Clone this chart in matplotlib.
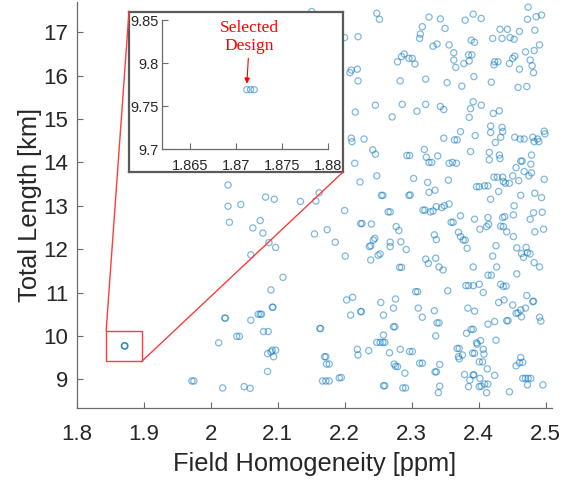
import matplotlib
matplotlib.use("Agg")
import matplotlib.pyplot as plt
from matplotlib.patches import Rectangle, ConnectionPatch

# Pareto front samples: field homogeneity [ppm] vs total length [km]
field_hom = [
    2.151,
    2.248, 2.252, 2.474, 2.326, 2.343, 2.350, 2.380, 2.392, 2.404, 2.473, 2.486, 2.494,
    2.484, 2.461, 2.432, 2.443, 2.316, 2.313, 2.312, 2.200, 2.220, 2.332, 2.338, 2.356,
    2.389, 2.394, 2.421, 2.435, 2.447, 2.453, 2.491, 2.470, 2.483, 2.363, 2.363, 2.366,
    2.385, 2.390, 2.386, 2.378, 2.279, 2.285, 2.289, 2.296, 2.301, 2.305, 2.210, 2.208,
    2.219, 2.220, 2.283, 2.321, 2.353, 2.375, 2.393, 2.419, 2.424, 2.429, 2.423, 2.446,
    2.451, 2.454, 2.461, 2.477, 2.480, 2.482, 2.459, 2.472, 2.216, 2.246, 2.271, 2.286,
    2.308, 2.321, 2.343, 2.348, 2.386, 2.388, 2.392, 2.404, 2.422, 2.431, 2.418, 2.435,
    2.498,
    2.210, 2.211, 2.229, 2.348, 2.364, 2.368, 2.373, 2.395, 2.418, 2.425, 2.433, 2.436,
    2.454, 2.462, 2.468, 2.481, 2.483, 2.488, 2.490, 2.499, 2.242, 2.246, 2.215, 2.293,
    2.297, 2.319, 2.322, 2.326, 2.330, 2.339, 2.356, 2.361, 2.367, 2.388, 2.416, 2.416,
    2.431, 2.432, 2.463, 2.465, 2.479, 2.478, 2.456, 2.248, 2.223, 2.303, 2.324, 2.355,
    2.397, 2.401, 2.409, 2.414, 2.423, 2.428, 2.436, 2.437, 2.440, 2.446, 2.451, 2.460,
    2.468, 2.475, 2.479, 2.498, 2.326, 2.335, 2.255, 2.257, 2.296, 2.298, 2.430, 2.418,
    2.463, 2.484, 2.494, 2.200, 2.265, 2.268, 2.317, 2.320, 2.328, 2.332, 2.337, 2.345,
    2.349, 2.356, 2.453, 2.482, 2.495, 2.224, 2.226, 2.240, 2.359, 2.362, 2.373, 2.394,
    2.414, 2.412, 2.415, 2.402, 2.436, 2.439, 2.433, 2.437, 2.452, 2.477, 2.442, 2.452,
    2.484, 2.497, 2.277, 2.281, 2.245, 2.243, 2.239, 2.237, 2.253, 2.250, 2.268, 2.268,
    2.284, 2.292, 2.334, 2.337, 2.370, 2.373, 2.377, 2.380, 2.383, 2.426, 2.421, 2.457,
    2.464, 2.471, 2.473, 2.477, 2.467, 2.201, 2.239, 2.321, 2.325, 2.336, 2.341, 2.282,
    2.285, 2.392, 2.427, 2.483, 2.491,
    2.347, 2.414, 2.419, 2.457, 2.381, 2.385, 2.392, 2.401, 2.407, 2.433, 2.437, 2.441,
    2.306, 2.309, 2.354, 2.203, 2.212, 2.254, 2.276, 2.273, 2.225, 2.224, 2.209, 2.258,
    2.310, 2.334, 2.316, 2.384, 2.394, 2.430, 2.438, 2.451, 2.472, 2.481, 2.482, 2.463,
    2.456, 2.459, 2.464, 2.470, 2.491, 2.493, 2.338, 2.341, 2.273, 2.275, 2.258, 2.248,
    2.253, 2.257, 2.260, 2.336, 2.382, 2.389, 2.392, 2.397, 2.398, 2.403, 2.414, 2.424,
    2.426, 2.442, 2.444, 2.219, 2.220, 2.236, 2.267, 2.283, 2.297, 2.301, 2.368, 2.371,
    2.370, 2.371, 2.376, 2.391, 2.394, 2.407, 2.408, 2.401, 2.406, 2.413, 2.456, 2.461,
    2.466, 2.463, 2.274, 2.276, 2.279, 2.312, 2.316, 2.342, 2.335, 2.337, 2.290, 2.195,
    2.379, 2.392, 2.393, 2.387, 2.402, 2.424, 2.466, 2.470, 2.474, 2.478, 2.496, 2.258,
    2.260, 2.287, 2.291, 2.342, 2.340, 2.385, 2.401, 2.404, 2.409, 2.414, 2.412, 2.446,
    2.473,
    2.026, 2.082, 2.095, 2.026, 2.045, 2.134, 2.157, 2.162, 2.028, 2.074, 2.063, 2.078,
    2.155, 2.174, 2.186, 2.087, 2.097, 2.060, 2.108, 2.090, 2.092, 2.093, 2.021, 2.022,
    2.060, 2.071, 2.074, 2.076, 2.163, 2.164, 2.012, 2.039, 2.043, 2.079, 2.086, 2.085,
    2.090, 2.092, 2.097, 2.094, 2.170, 2.172, 2.173, 2.177, 2.085, 2.167, 2.172, 2.177,
    2.192, 1.972, 1.975, 2.018, 2.050, 2.059,
    1.8712, 1.8716, 1.8720,
]
total_len = [
    17.48,
    17.44, 17.30, 17.58, 17.35, 17.31, 17.09, 17.28, 17.42, 17.32, 17.30, 17.36, 17.40,
    17.05, 17.02, 17.07, 17.07, 17.13, 16.96, 16.86, 16.88, 16.90, 16.68, 16.73, 16.71,
    16.82, 16.77, 16.86, 16.86, 16.88, 16.84, 16.71, 16.55, 16.58, 16.53, 16.36, 16.19,
    16.48, 16.48, 16.34, 16.28, 16.32, 16.44, 16.50, 16.40, 16.40, 16.27, 16.13, 16.07,
    16.15, 15.88, 15.88, 15.92, 15.84, 15.76, 15.98, 15.85, 16.32, 16.32, 16.25, 16.28,
    16.40, 16.45, 16.15, 16.36, 16.23, 16.07, 15.73, 15.75, 15.16, 15.32, 15.05, 15.34,
    15.18, 15.34, 15.29, 15.22, 15.04, 15.24, 15.40, 15.32, 15.13, 15.19, 14.84, 14.81,
    14.72,
    14.56, 14.48, 14.54, 14.56, 14.52, 14.52, 14.71, 14.62, 14.69, 14.46, 14.58, 14.71,
    14.58, 14.54, 14.54, 14.58, 14.48, 14.54, 14.48, 14.66, 14.29, 14.19, 13.98, 14.16,
    14.16, 14.30, 14.12, 14.00, 14.00, 14.15, 13.98, 14.00, 13.98, 14.25, 14.23, 14.06,
    14.17, 14.09, 14.03, 14.03, 14.17, 13.96, 13.88, 13.69, 13.55, 13.63, 13.54, 13.59,
    13.44, 13.44, 13.46, 13.46, 13.66, 13.66, 13.66, 13.56, 13.52, 13.52, 13.69, 13.58,
    13.79, 13.69, 13.76, 13.61, 13.31, 13.36, 13.24, 13.24, 13.24, 13.25, 13.33, 13.15,
    13.24, 13.29, 13.19, 12.89, 12.86, 12.86, 12.90, 12.90, 12.86, 12.88, 12.98, 12.96,
    13.00, 13.04, 13.00, 12.84, 12.85, 12.59, 12.59, 12.58, 12.62, 12.62, 12.77, 12.69,
    12.73, 12.52, 12.57, 12.46, 12.73, 12.75, 12.53, 12.52, 12.79, 12.69, 12.40, 12.29,
    12.40, 12.46, 12.52, 12.43, 12.25, 12.21, 12.08, 12.06, 11.89, 11.86, 12.16, 12.06,
    12.17, 11.99, 12.33, 12.22, 12.39, 12.29, 12.21, 12.21, 12.02, 12.08, 11.84, 12.03,
    11.90, 12.04, 11.92, 11.89, 11.81, 11.84, 11.75, 11.77, 11.67, 11.79, 11.59, 11.58,
    11.58, 11.59, 11.59, 11.69, 11.59,
    11.52, 11.40, 11.40, 11.43, 11.16, 11.16, 11.16, 11.19, 11.00, 11.19, 11.14, 11.15,
    11.02, 11.02, 11.04, 10.83, 10.89, 10.77, 10.85, 10.64, 10.56, 10.56, 10.48, 10.48,
    10.64, 10.58, 10.43, 10.64, 10.57, 10.77, 10.83, 10.71, 10.93, 10.79, 10.80, 10.60,
    10.52, 10.53, 10.44, 10.64, 10.43, 10.34, 10.30, 10.30, 10.21, 10.21, 10.02, 9.85,
    9.85, 9.85, 9.85, 10.00, 10.06, 10.15, 10.15, 9.84, 9.81, 9.89, 10.27, 10.33,
    9.90, 10.35, 10.35, 9.69, 9.56, 9.66, 9.61, 9.69, 9.64, 9.64, 9.71, 9.71,
    9.52, 9.47, 9.56, 9.60, 9.60, 9.69, 9.58, 9.40, 9.40, 9.24, 9.31, 9.38,
    9.39, 9.50, 9.35, 9.30, 9.29, 9.37, 9.37, 9.34, 9.17, 9.17, 9.14, 9.04,
    9.11, 9.10, 9.10, 8.98, 9.02, 9.09, 9.02, 9.02, 9.02, 9.02, 8.87, 8.85,
    8.85, 8.80, 8.80, 8.84, 8.69, 8.83, 8.83, 8.84, 8.89, 8.89, 8.69, 8.71,
    8.87,
    13.48, 13.20, 13.15, 12.99, 13.03, 13.10, 13.11, 13.30, 12.62, 12.66, 12.49, 12.37,
    12.35, 12.45, 12.16, 12.15, 12.04, 11.87, 11.35, 11.06, 10.66, 10.66, 10.41, 10.41,
    10.36, 10.50, 10.50, 10.50, 10.17, 10.17, 9.84, 9.99, 9.99, 10.10, 10.10, 9.59,
    9.63, 9.67, 9.67, 9.52, 9.52, 9.52, 9.35, 9.35, 9.18, 8.96, 8.96, 8.96,
    9.03, 8.96, 8.96, 8.80, 8.83, 8.79,
    9.769, 9.769, 9.769,
]

sel_x, sel_y = 1.8712, 9.776
zoom_box = (1.844, 9.41, 1.897, 10.12)  # x0, y0, x1, y1

x_ticks = [1.8, 1.9, 2.0, 2.1, 2.2, 2.3, 2.4, 2.5]
x_labels = ["1.8", "1.9", "2", "2.1", "2.2", "2.3", "2.4", "2.5"]
y_ticks = [9, 10, 11, 12, 13, 14, 15, 16, 17]
in_x_ticks = [1.865, 1.87, 1.875, 1.88]
in_x_labels = ["1.865", "1.87", "1.875", "1.88"]
in_y_ticks = [9.7, 9.75, 9.8, 9.85]
in_y_labels = ["9.7", "9.75", "9.8", "9.85"]

plt.rcParams['font.family'] = ['Liberation Sans', 'DejaVu Sans']
axcol = '#6a6a6a'
txtcol = '#262626'
blue = '#0072BD'
red = '#FF3b3b'


def style_axes(a, size, xpad, ypad):
    for s in ['top', 'right']:
        a.spines[s].set_visible(False)
    for s in ['left', 'bottom']:
        a.spines[s].set_color(axcol)
        a.spines[s].set_linewidth(0.9)
    a.tick_params(direction='in', colors=axcol, labelcolor=txtcol,
                  labelsize=size, length=4, width=0.8)
    a.tick_params(axis='x', pad=xpad)
    a.tick_params(axis='y', pad=ypad)


fig = plt.figure(figsize=(5.71, 4.84), dpi=100)
ax = fig.add_axes([0.1343, 0.1564, 0.8317, 0.8395])
ax.scatter(field_hom, total_len, s=20, facecolors='none', edgecolors=blue,
           linewidths=0.9, alpha=0.5)
ax.set_xlim(1.8, 2.509)
ax.set_ylim(8.33, 17.70)
ax.set_xticks(x_ticks)
ax.set_xticklabels(x_labels)
ax.set_yticks(y_ticks)
style_axes(ax, 16, 11, 6)
ax.set_xlabel("Field Homogeneity [ppm]", fontsize=18.3, color=txtcol, labelpad=5)
ax.set_ylabel("Total Length [km]", fontsize=18.3, color=txtcol, labelpad=1)

ax.add_patch(Rectangle((zoom_box[0], zoom_box[1]), zoom_box[2] - zoom_box[0],
                       zoom_box[3] - zoom_box[1], fill=False, edgecolor=red, lw=1))

# frame around the inset
frame = fig.add_axes([0.2259, 0.644, 0.3743, 0.3318])
frame.set_xticks([])
frame.set_yticks([])
for s in frame.spines.values():
    s.set_color('#5a5a5a')
    s.set_linewidth(1.6)

for xy_main, xy_frame in [((zoom_box[0], zoom_box[3]), (0, 1)),
                          ((zoom_box[2], zoom_box[1]), (1, 0))]:
    con = ConnectionPatch(xyA=xy_main, coordsA=ax.transData,
                          xyB=xy_frame, coordsB=frame.transAxes,
                          color=red, lw=1)
    fig.add_artist(con)

ax_in = fig.add_axes([0.2842, 0.6921, 0.2897, 0.2665])
ax_in.scatter(field_hom, total_len, s=20, facecolors='none', edgecolors=blue,
              linewidths=0.9, alpha=0.5)
ax_in.set_xlim(1.862, 1.88)
ax_in.set_ylim(9.7, 9.85)
ax_in.set_xticks(in_x_ticks)
ax_in.set_xticklabels(in_x_labels)
ax_in.set_yticks(in_y_ticks)
ax_in.set_yticklabels(in_y_labels)
style_axes(ax_in, 10.5, 7.5, 2.5)
ax_in.annotate("Selected\nDesign", xy=(sel_x, sel_y), xytext=(sel_x + 0.0003, 9.83),
               ha='center', va='center', color='red', fontsize=12.5,
               family=['Liberation Serif', 'DejaVu Serif'], linespacing=1.15,
               arrowprops=dict(arrowstyle='-|>', color='red', lw=0.8,
                               mutation_scale=8, shrinkA=1, shrinkB=0))

fig.savefig("out.png", dpi=100)
